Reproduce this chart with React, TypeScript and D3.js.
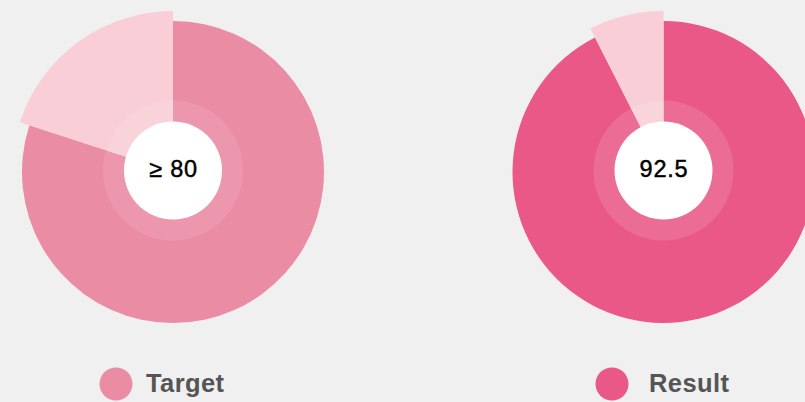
import React from "react";
import * as d3 from "d3";

const W = 805;
const H = 402;

const charts = ["Target", "Result"];
const mainValues = [80, 92.5];
const centerLabels = ["≥ 80", "92.5"];
const total = 100;
const mainColors = ["#EB8CA5", "#E95886"];
const restColor = "#F9CED6";
const ringColors = ["rgba(255,255,255,0.1)", "rgba(255,255,255,0.12)"];

const centersX = [173, 663.5];
const cy = 172;
const rMain = 151;
const rRest = 161;
const rRing = 70;
const rHole = 49;
const legendCircleX = [116, 612];
const legendTextX = [146, 649];

export default function App() {
  const pie = d3
    .pie<number>()
    .sort(null)
    .value((d) => d);
  return (
    <div style={{ position: "fixed", left: 0, top: 0 }}>
      <svg width={W} height={H} style={{ display: "block", background: "#F0F0F0" }}>
        {charts.map((name, i) => {
          const data = [mainValues[i], total - mainValues[i]];
          const arcs = pie(data);
          return (
            <g key={name} transform={`translate(${centersX[i]},${cy})`}>
              {arcs.map((a, j) => {
                const arcGen = d3
                  .arc<d3.PieArcDatum<number>>()
                  .innerRadius(0)
                  .outerRadius(j === 0 ? rMain : rRest);
                return (
                  <path
                    key={j}
                    d={arcGen(a) || ""}
                    fill={j === 0 ? mainColors[i] : restColor}
                  />
                );
              })}
              <circle r={rRing} cy={-1.5} fill={ringColors[i]} />
              <circle r={rHole} cy={-1.5} fill="#ffffff" />
              <text
                x={0.5}
                y={4.5}
                textAnchor="middle"
                fontFamily="'Liberation Sans', Arial, sans-serif"
                fontSize={23.5}
                letterSpacing={0.8}
                fill="#000"
                stroke="#000"
                strokeWidth={0.45}
              >
                {centerLabels[i]}
              </text>
            </g>
          );
        })}
        {charts.map((name, i) => (
          <g key={"leg" + name}>
            <circle cx={legendCircleX[i]} cy={384} r={16.5} fill={mainColors[i]} />
            <text
              x={legendTextX[i]}
              y={391.7}
              fontFamily="'Liberation Sans', Arial, sans-serif"
              fontWeight="bold"
              fontSize={25.5}
              letterSpacing={0.4}
              fill="#555555"
            >
              {name}
            </text>
          </g>
        ))}
      </svg>
    </div>
  );
}
